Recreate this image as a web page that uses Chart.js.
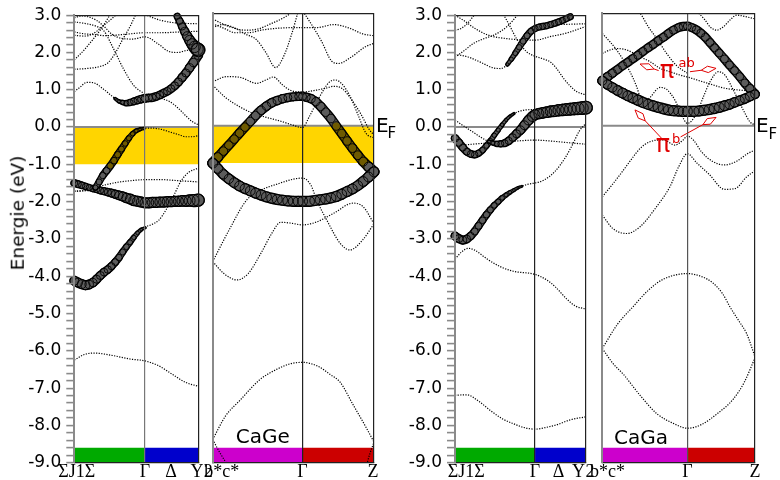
<!DOCTYPE html>
<html>
<head>
<meta charset="utf-8">
<title>CaGe / CaGa band structures</title>
<script src="https://cdn.jsdelivr.net/npm/chart.js@4.4.1/dist/chart.umd.min.js"></script>
<style>
  html, body { margin: 0; padding: 0; background: #fff; }
  #stage { position: relative; width: 780px; height: 480px; overflow: hidden; }
  #stage canvas { position: absolute; left: 0; top: 0; }
  .txt { position: absolute; white-space: nowrap; line-height: 1; font-family: "DejaVu Sans", sans-serif; color: #000; }
  .red { color: #e00000; }
</style>
</head>
<body>
<div id="stage">
  <canvas id="cageLeft" width="780" height="480"></canvas>
  <canvas id="cageRight" width="780" height="480"></canvas>
  <canvas id="cagaLeft" width="780" height="480"></canvas>
  <canvas id="cagaRight" width="780" height="480"></canvas>

  <div class="txt" style="left:18px;top:213px;font-size:18.5px;transform:translate(-50%,-50%) rotate(-90deg);">Energie (eV)</div>

  <div class="txt" style="left:376px;top:115px;font-size:20px;">E</div>
  <div class="txt" style="left:387.5px;top:125.6px;font-size:15px;">F</div>
  <div class="txt" style="left:756px;top:115.4px;font-size:20px;">E</div>
  <div class="txt" style="left:768.5px;top:127.3px;font-size:15px;">F</div>

  <div class="txt" style="left:235.7px;top:426.1px;font-size:20px;">CaGe</div>
  <div class="txt" style="left:614px;top:427.1px;font-size:20px;">CaGa</div>

  <div class="txt red" style="left:659.7px;top:58px;font-size:24px;">π</div>
  <div class="txt red" style="left:678.5px;top:56.3px;font-size:13px;">ab</div>
  <div class="txt red" style="left:655.7px;top:132.4px;font-size:24px;">π</div>
  <div class="txt red" style="left:672px;top:131.7px;font-size:13px;">b</div>
</div>

<script>
// ---------------------------------------------------------------------------
// Energy window shared by all four panels (eV, relative to E_F)
const E_MIN = -9;
const E_MAX = 3;
const BAR_TOP = -8.6;          // top of the coloured k-path strips
const FAT_RADIUS_PX = 10;      // circle radius for a fat-band weight of 1

// ---------------------------------------------------------------------------
// CaGe, first k-path (path coordinate 0..1)
const cageLeftLabels = ['ΣJ1Σ', 'Γ', 'Δ', 'Y'];
const cageLeftLabelK = [0.02, 0.57, 0.78, 0.99];
const cageLeftStrips = [[0, 0.57], [0.57, 1]];

const cageLeftBands = [
  [[0,-6.25],[0.08,-6.1],[0.16,-6.06],[0.3,-6.12],[0.45,-6.22],[0.57,-6.27],[0.68,-6.4],[0.8,-6.65],[0.9,-6.85],[1,-6.95]],
  [[0,-4.12],[0.1,-4.24],[0.2,-4.02],[0.3,-3.73],[0.4,-3.3],[0.5,-2.88],[0.57,-2.68],[0.62,-2.62],[0.68,-2.5],[0.74,-2.22],[0.8,-1.85],[0.86,-1.45],[0.92,-1.22],[1,-1.1]],
  [[0,-1.5],[0.15,-1.65],[0.3,-1.77],[0.42,-1.9],[0.51,-1.99],[0.57,-2.03],[0.69,-2.01],[0.84,-1.99],[1,-1.96]],
  [[0,-1.72],[0.08,-1.71],[0.15,-1.67],[0.2,-1.47],[0.26,-1.17],[0.32,-0.9],[0.38,-0.59],[0.44,-0.3],[0.5,-0.1],[0.57,-0.03],[0.63,-0.03],[0.7,-0.06],[0.77,-0.13],[0.84,-0.2],[0.9,-0.26],[0.95,-0.26],[1,-0.23]],
  [[0,-1.72],[0.08,-1.7],[0.153,-1.64],[0.25,-1.55],[0.35,-1.48],[0.45,-1.44],[0.57,-1.41],[0.7,-1.41],[0.85,-1.44],[1,-1.47]],
  [[0,0.95],[0.05,1.08],[0.1,1.2],[0.153,1.19],[0.234,1.02],[0.3,0.84],[0.368,0.684],[0.422,0.64],[0.476,0.684],[0.53,0.746],[0.57,0.773],[0.637,0.79],[0.69,0.86],[0.744,0.95],[0.798,1.08],[0.852,1.26],[0.906,1.48],[0.96,1.73],[1,1.93]],
  [[0,2.82],[0.1,2.77],[0.18,2.7],[0.234,2.6],[0.315,2.11],[0.395,1.57],[0.476,1.13],[0.53,0.97],[0.57,0.9],[0.64,0.82],[0.7,0.77],[0.77,0.68],[0.84,0.5],[0.9,0.3],[0.95,0.15],[1,0.06]],
  [[0,1.55],[0.1,1.57],[0.2,1.62],[0.27,1.72],[0.33,1.98],[0.39,2.35],[0.45,2.7],[0.5,3.05]],
  [[0,1.8],[0.08,2.07],[0.15,2.35],[0.22,2.65],[0.29,3.02]],
  [[0,2.93],[0.06,2.98],[0.12,2.95],[0.18,2.86],[0.24,2.7],[0.3,2.5],[0.38,2.38],[0.47,2.36],[0.57,2.42],[0.68,2.22],[0.76,2.03],[0.83,2.0],[0.9,2.05],[1,2.1]],
  [[0,2.55],[0.08,2.5],[0.16,2.48],[0.25,2.45],[0.35,2.47],[0.45,2.5],[0.57,2.53],[0.7,2.53],[0.85,2.55],[1,2.57]],
  [[0,2.46],[0.08,2.44],[0.15,2.5],[0.22,2.68],[0.3,2.9],[0.35,3.05]],
  [[0.55,3.05],[0.62,2.95],[0.7,2.86],[0.8,2.8],[0.9,2.78],[1,2.77]],
  [[0.8,3.15],[0.83,2.97],[0.87,2.7],[0.91,2.44],[0.95,2.23],[1,2.07]]
];

// fat bands: [k, E, weight]
const cageLeftFat = [
  [[0,-4.12,0.45],[0.03,-4.17,0.45],[0.06,-4.21,0.45],[0.09,-4.24,0.45],[0.12,-4.22,0.43],[0.15,-4.17,0.42],[0.18,-4.08,0.4],[0.21,-3.98,0.4],[0.24,-3.89,0.38],[0.27,-3.82,0.37],[0.3,-3.73,0.35],[0.33,-3.62,0.34],[0.36,-3.5,0.32],[0.39,-3.35,0.3],[0.42,-3.21,0.28],[0.45,-3.09,0.25],[0.48,-2.96,0.22],[0.51,-2.84,0.18],[0.54,-2.75,0.14],[0.57,-2.7,0.1]],
  [[0,-1.5,0.35],[0.03,-1.53,0.33],[0.06,-1.56,0.32],[0.09,-1.59,0.3],[0.12,-1.62,0.3],[0.15,-1.65,0.3],[0.18,-1.67,0.32],[0.21,-1.7,0.33],[0.24,-1.72,0.35],[0.27,-1.745,0.36],[0.3,-1.77,0.38],[0.33,-1.8,0.4],[0.36,-1.83,0.42],[0.39,-1.86,0.44],[0.42,-1.9,0.46],[0.45,-1.93,0.48],[0.48,-1.97,0.5],[0.51,-1.99,0.5],[0.54,-2.01,0.5],[0.57,-2.03,0.5],[0.6,-2.03,0.5],[0.63,-2.02,0.5],[0.66,-2.02,0.5],[0.69,-2.01,0.5],[0.72,-2.01,0.5],[0.75,-2.0,0.5],[0.78,-2.0,0.5],[0.81,-1.99,0.5],[0.84,-1.99,0.5],[0.87,-1.98,0.52],[0.9,-1.98,0.53],[0.93,-1.97,0.55],[0.96,-1.97,0.58],[1,-1.96,0.62]],
  [[0.17,-1.62,0.25],[0.2,-1.47,0.3],[0.23,-1.3,0.32],[0.26,-1.17,0.33],[0.29,-1.04,0.33],[0.32,-0.9,0.33],[0.35,-0.74,0.32],[0.38,-0.59,0.3],[0.41,-0.44,0.28],[0.44,-0.3,0.25],[0.47,-0.18,0.22],[0.5,-0.1,0.18],[0.53,-0.06,0.14],[0.56,-0.04,0.1]],
  [[0.33,0.76,0.12],[0.36,0.69,0.15],[0.39,0.66,0.2],[0.42,0.64,0.25],[0.45,0.66,0.3],[0.48,0.69,0.33],[0.51,0.72,0.35],[0.54,0.75,0.37],[0.57,0.77,0.38],[0.6,0.78,0.38],[0.63,0.79,0.38],[0.66,0.82,0.38],[0.69,0.86,0.38],[0.72,0.91,0.38],[0.75,0.96,0.38],[0.78,1.03,0.38],[0.81,1.11,0.38],[0.84,1.21,0.39],[0.87,1.33,0.4],[0.9,1.45,0.4],[0.93,1.59,0.41],[0.96,1.73,0.42],[1,1.93,0.44]],
  [[0.83,2.97,0.3],[0.85,2.84,0.33],[0.87,2.7,0.36],[0.89,2.57,0.4],[0.91,2.44,0.44],[0.93,2.33,0.48],[0.95,2.23,0.52],[0.97,2.15,0.57],[0.99,2.09,0.62],[1,2.07,0.68]]
];

// ---------------------------------------------------------------------------
// CaGe, second k-path
const cageRightLabels = ['2', 'b*c*', 'Γ', 'Z'];
const cageRightLabelK = [-0.027, 0.056, 0.557, 0.994];
const cageRightStrips = [[0, 0.557], [0.557, 1]];

const cageRightBands = [
  [[0,-8.38],[0.08,-7.75],[0.17,-7.33],[0.29,-6.79],[0.4,-6.5],[0.48,-6.36],[0.557,-6.32],[0.65,-6.42],[0.73,-6.65],[0.79,-6.85],[0.87,-7.45],[0.95,-8.05],[1,-8.45]],
  [[0,-8.38],[0.04,-8.7],[0.09,-9.05]],
  [[0.955,-9.05],[0.975,-8.75],[1,-8.45]],
  [[0,-3.63],[0.07,-3.95],[0.15,-4.12],[0.22,-3.95],[0.3,-3.4],[0.37,-2.85],[0.42,-2.58],[0.48,-2.6],[0.557,-2.65],[0.645,-2.57],[0.75,-2.34],[0.87,-2.07],[0.934,-2.17],[1,-2.62]],
  [[0,-3.63],[0.1,-2.8],[0.21,-1.99],[0.3,-1.72],[0.4,-1.56],[0.5,-1.43],[0.557,-1.4],[0.61,-1.6],[0.645,-1.99],[0.707,-2.52],[0.79,-3.14],[0.85,-3.32],[0.93,-3.05],[1,-2.62]],
  [[0,1.08],[0.08,0.75],[0.169,0.5],[0.25,0.33],[0.334,0.22],[0.42,0.12],[0.479,0.04],[0.557,-0.05],[0.6,0.25],[0.66,0.75],[0.72,1.15],[0.76,1.22],[0.8,1.12],[0.85,0.8],[0.9,0.3],[0.95,-0.2],[1,-0.33]],
  [[0,1.17],[0.087,1.31],[0.169,1.29],[0.273,1.13],[0.33,1.22],[0.376,1.3],[0.43,1.1],[0.479,0.95],[0.557,0.9],[0.645,0.95],[0.7,1.0],[0.75,1.05],[0.8,1.0],[0.86,0.7],[0.92,0.3],[0.97,-0.1],[1,-0.25]],
  [[0,2.85],[0.06,2.72],[0.12,2.62],[0.2,2.55],[0.28,2.58],[0.36,2.72],[0.44,2.88],[0.5,3.05]],
  [[0,2.62],[0.06,2.7],[0.13,2.62],[0.2,2.45],[0.27,2.3],[0.33,1.95],[0.39,1.55],[0.44,1.85],[0.49,2.45],[0.53,3.05]],
  [[0,2.72],[0.07,2.6],[0.14,2.48],[0.22,2.48],[0.3,2.55],[0.4,2.6],[0.557,2.62],[0.65,2.62],[0.75,2.7],[0.85,2.6],[0.93,2.45],[1,2.4]],
  [[0.56,3.05],[0.613,2.7],[0.675,2.25],[0.738,1.72],[0.78,1.66],[0.862,1.84],[0.944,2.1],[1,2.2]]
];

const cageRightFat = [
  [[0,-1.0,0.5],[0.033,-0.84,0.45],[0.066,-0.68,0.43],[0.1,-0.52,0.43],[0.133,-0.36,0.43],[0.166,-0.2,0.43],[0.2,-0.04,0.43],[0.233,0.11,0.43],[0.266,0.27,0.43],[0.3,0.41,0.43],[0.333,0.52,0.42],[0.366,0.61,0.42],[0.4,0.67,0.41],[0.433,0.72,0.41],[0.466,0.75,0.4],[0.5,0.77,0.4],[0.533,0.78,0.4],[0.557,0.78,0.4],[0.58,0.76,0.4],[0.61,0.72,0.41],[0.64,0.64,0.42],[0.67,0.51,0.43],[0.7,0.36,0.43],[0.733,0.19,0.43],[0.766,-0.01,0.43],[0.8,-0.21,0.43],[0.833,-0.41,0.43],[0.866,-0.6,0.44],[0.9,-0.79,0.44],[0.933,-0.96,0.45],[0.966,-1.1,0.47],[1,-1.23,0.5]],
  [[0,-1.0,0.5],[0.033,-1.15,0.46],[0.066,-1.3,0.46],[0.1,-1.42,0.47],[0.133,-1.52,0.47],[0.166,-1.61,0.48],[0.2,-1.68,0.48],[0.233,-1.74,0.49],[0.266,-1.8,0.49],[0.3,-1.85,0.5],[0.333,-1.9,0.5],[0.366,-1.94,0.5],[0.4,-1.97,0.5],[0.433,-1.99,0.5],[0.466,-2.01,0.5],[0.5,-2.02,0.5],[0.53,-2.02,0.5],[0.557,-2.02,0.5],[0.6,-2.02,0.5],[0.633,-2.0,0.5],[0.666,-1.98,0.5],[0.7,-1.96,0.5],[0.733,-1.93,0.5],[0.766,-1.89,0.5],[0.8,-1.83,0.49],[0.833,-1.76,0.49],[0.866,-1.69,0.48],[0.9,-1.6,0.48],[0.933,-1.49,0.48],[0.966,-1.37,0.49],[1,-1.23,0.5]]
];

// ---------------------------------------------------------------------------
// CaGa, first k-path
const cagaLeftLabels = ['ΣJ1Σ', 'Γ', 'Δ', 'Y'];
const cagaLeftLabelK = [0.085, 0.611, 0.79, 0.943];
const cagaLeftStrips = [[0, 0.611], [0.611, 1]];

const cagaLeftBands = [
  [[0,-7.19],[0.09,-7.18],[0.18,-7.35],[0.27,-7.6],[0.36,-7.82],[0.45,-7.96],[0.53,-8.06],[0.611,-8.1],[0.7,-8.05],[0.78,-7.98],[0.88,-7.85],[1,-7.77]],
  [[0,-3.54],[0.05,-3.35],[0.1,-3.25],[0.15,-3.3],[0.25,-3.55],[0.35,-3.75],[0.45,-3.87],[0.611,-3.95],[0.7,-4.1],[0.77,-4.3],[0.85,-4.6],[0.92,-4.8],[1,-4.88]],
  [[0,-2.92],[0.05,-3.02],[0.1,-2.98],[0.15,-2.8],[0.2,-2.55],[0.25,-2.3],[0.3,-2.1],[0.36,-1.9],[0.42,-1.75],[0.5,-1.6],[0.56,-1.53],[0.611,-1.5],[0.68,-1.42],[0.76,-1.2],[0.84,-0.83],[0.9,-0.45],[0.95,-0.1],[1,0.1]],
  [[0,0.19],[0.07,0.02],[0.14,-0.14],[0.2,-0.28],[0.26,-0.39],[0.32,-0.45],[0.38,-0.43],[0.44,-0.28],[0.5,-0.08],[0.55,0.13],[0.611,0.33],[0.7,0.4],[0.8,0.45],[0.9,0.49],[1,0.52]],
  [[0,-0.3],[0.06,-0.55],[0.12,-0.72],[0.15,-0.74],[0.2,-0.65],[0.27,-0.37],[0.33,-0.08],[0.39,0.19],[0.45,0.36],[0.52,0.45],[0.611,0.47],[0.7,0.48],[0.8,0.5],[0.9,0.52],[1,0.54]],
  [[0,-0.5],[0.1,-0.47],[0.2,-0.44],[0.3,-0.43],[0.45,-0.38],[0.611,-0.35],[0.75,-0.38],[0.9,-0.43],[1,-0.46]],
  [[0,1.95],[0.1,1.88],[0.2,1.73],[0.3,1.58],[0.35,1.57],[0.4,1.68],[0.45,1.92],[0.5,2.2],[0.55,2.45],[0.611,2.64],[0.68,2.71],[0.75,2.77],[0.82,2.86],[0.88,2.97],[0.92,3.05]],
  [[0.37,3.02],[0.42,2.7],[0.47,2.37],[0.547,2.02],[0.611,1.9],[0.68,1.82],[0.73,1.74],[0.78,1.55],[0.83,1.3],[0.88,1.1],[0.93,0.95],[1,0.86]],
  [[0,2.6],[0.05,2.65],[0.1,2.8],[0.15,3.02]],
  [[0,3.0],[0.07,2.85],[0.15,2.65],[0.25,2.47],[0.4,2.37],[0.611,2.33],[0.72,2.42],[0.85,2.52],[1,2.7]],
  [[0,1.87],[0.07,2.05],[0.14,2.24],[0.22,2.37],[0.292,2.46],[0.35,2.57],[0.395,2.69],[0.44,2.85],[0.48,3.02]],
  [[0.611,2.72],[0.7,2.73],[0.8,2.75],[0.9,2.76],[1,2.77]]
];

const cagaLeftFat = [
  [[0,-2.92,0.4],[0.03,-2.99,0.4],[0.06,-3.03,0.4],[0.09,-3.0,0.38],[0.12,-2.92,0.36],[0.15,-2.8,0.35],[0.18,-2.65,0.34],[0.21,-2.5,0.33],[0.24,-2.35,0.32],[0.27,-2.22,0.3],[0.3,-2.1,0.28],[0.33,-2.0,0.26],[0.36,-1.9,0.23],[0.39,-1.82,0.2],[0.42,-1.75,0.17],[0.45,-1.69,0.14],[0.48,-1.63,0.11],[0.51,-1.59,0.08]],
  [[0,-0.3,0.38],[0.03,-0.42,0.36],[0.06,-0.55,0.35],[0.09,-0.66,0.34],[0.12,-0.72,0.33],[0.15,-0.74,0.32],[0.18,-0.7,0.3],[0.21,-0.62,0.28],[0.24,-0.5,0.26],[0.27,-0.37,0.24],[0.3,-0.22,0.22],[0.33,-0.08,0.2],[0.36,0.06,0.18],[0.39,0.19,0.15],[0.42,0.29,0.12],[0.45,0.36,0.1]],
  [[0.26,-0.39,0.15],[0.29,-0.43,0.2],[0.32,-0.45,0.25],[0.35,-0.45,0.3],[0.38,-0.43,0.33],[0.41,-0.37,0.36],[0.44,-0.28,0.38],[0.47,-0.18,0.4],[0.5,-0.08,0.42],[0.53,0.05,0.44],[0.56,0.18,0.46],[0.59,0.28,0.48],[0.611,0.33,0.5],[0.64,0.36,0.5],[0.67,0.38,0.51],[0.7,0.4,0.52],[0.73,0.42,0.53],[0.76,0.43,0.54],[0.79,0.45,0.55],[0.82,0.46,0.56],[0.85,0.47,0.57],[0.88,0.48,0.58],[0.91,0.49,0.59],[0.94,0.5,0.6],[0.97,0.51,0.62],[1,0.52,0.65]],
  [[0.4,1.68,0.15],[0.43,1.82,0.2],[0.46,1.98,0.24],[0.49,2.14,0.27],[0.52,2.3,0.29],[0.55,2.45,0.3],[0.58,2.57,0.3],[0.611,2.64,0.3],[0.64,2.68,0.3],[0.67,2.7,0.3],[0.7,2.72,0.3],[0.73,2.75,0.3],[0.76,2.78,0.3],[0.79,2.82,0.3],[0.82,2.86,0.3],[0.85,2.91,0.3],[0.88,2.96,0.3]]
];

// ---------------------------------------------------------------------------
// CaGa, second k-path
const cagaRightLabels = ['2', 'b*c*', 'Γ', 'Z'];
const cagaRightLabelK = [-0.08, 0.034, 0.557, 1];
const cagaRightStrips = [[0, 0.557], [0.557, 1]];

const cagaRightBands = [
  [[0,-5.95],[0.07,-6.35],[0.14,-6.65],[0.247,-7.2],[0.36,-7.7],[0.465,-7.95],[0.557,-8.08],[0.65,-7.98],[0.75,-7.7],[0.858,-7.3],[0.93,-6.85],[1,-6.2]],
  [[0,-5.95],[0.1,-5.3],[0.2,-4.84],[0.3,-4.4],[0.4,-4.1],[0.557,-3.95],[0.65,-4.03],[0.727,-4.21],[0.79,-4.5],[0.836,-4.84],[0.9,-5.25],[0.945,-5.55],[1,-6.17]],
  [[0,-2.39],[0.07,-2.75],[0.16,-2.88],[0.247,-2.7],[0.356,-2.16],[0.443,-1.63],[0.5,-1.1],[0.557,-0.75],[0.62,-1.0],[0.7,-1.3],[0.8,-1.7],[0.87,-1.68],[0.945,-1.37],[1,-1.2]],
  [[0,-1.9],[0.072,-1.54],[0.138,-1.19],[0.203,-0.83],[0.247,-0.61],[0.312,-0.43],[0.4,-0.38],[0.476,-0.52],[0.53,-0.38],[0.557,-0.28],[0.6,-0.4],[0.65,-0.7],[0.72,-0.95],[0.8,-1.05],[0.88,-0.95],[0.95,-0.75],[1,-0.65]],
  [[0,2.46],[0.05,2.24],[0.094,2.02],[0.138,1.75],[0.181,1.44],[0.225,1.04],[0.247,0.77],[0.269,0.6],[0.312,0.75],[0.378,1.02],[0.421,0.97],[0.476,0.68],[0.52,0.28],[0.557,0.06],[0.618,0.33],[0.662,0.77],[0.705,1.17],[0.76,1.44],[0.803,1.35],[0.858,0.95],[0.923,0.42],[0.967,0.1],[1,0.02]],
  [[0,1.93],[0.05,2.02],[0.094,2.06],[0.16,2.02],[0.247,1.84],[0.312,1.71],[0.378,1.53],[0.443,1.44],[0.509,1.35],[0.557,1.3],[0.62,1.22],[0.7,1.12],[0.8,1.0],[0.9,0.95],[1,0.92]],
  [[0.22,3.05],[0.247,3.0],[0.301,2.64],[0.356,2.33],[0.421,1.93],[0.487,1.6],[0.557,1.4]],
  [[0.62,3.05],[0.673,2.82],[0.705,2.64],[0.749,2.55],[0.793,2.64],[0.836,2.82],[0.88,2.95],[0.95,2.9],[1,2.85]]
];

const cagaRightFat = [
  [[0,1.2,0.45],[0.033,1.3,0.42],[0.066,1.4,0.4],[0.1,1.5,0.4],[0.133,1.6,0.4],[0.166,1.69,0.4],[0.2,1.79,0.4],[0.233,1.88,0.4],[0.266,1.98,0.4],[0.3,2.08,0.4],[0.333,2.17,0.4],[0.366,2.27,0.4],[0.4,2.36,0.4],[0.433,2.46,0.4],[0.466,2.55,0.4],[0.5,2.62,0.4],[0.53,2.65,0.4],[0.557,2.66,0.4],[0.585,2.62,0.4],[0.615,2.56,0.4],[0.645,2.47,0.4],[0.675,2.36,0.4],[0.705,2.22,0.4],[0.735,2.08,0.4],[0.765,1.94,0.4],[0.8,1.78,0.4],[0.833,1.62,0.4],[0.866,1.47,0.4],[0.9,1.31,0.4],[0.933,1.14,0.4],[0.966,0.99,0.41],[1,0.84,0.43]],
  [[0,1.2,0.45],[0.033,1.1,0.45],[0.066,1.02,0.46],[0.1,0.94,0.47],[0.133,0.87,0.48],[0.166,0.8,0.48],[0.2,0.74,0.49],[0.233,0.68,0.5],[0.266,0.62,0.5],[0.3,0.57,0.5],[0.333,0.53,0.5],[0.366,0.49,0.5],[0.4,0.45,0.5],[0.433,0.42,0.5],[0.466,0.4,0.5],[0.5,0.39,0.5],[0.53,0.38,0.5],[0.557,0.38,0.5],[0.6,0.38,0.5],[0.633,0.39,0.5],[0.666,0.41,0.5],[0.7,0.43,0.5],[0.733,0.46,0.5],[0.766,0.49,0.49],[0.8,0.53,0.48],[0.833,0.57,0.47],[0.866,0.62,0.46],[0.9,0.67,0.45],[0.933,0.72,0.45],[0.966,0.78,0.44],[1,0.84,0.43]]
];

// ---------------------------------------------------------------------------
// drawing
Chart.defaults.font.family = '"DejaVu Sans", sans-serif';
Chart.defaults.color = '#000';

const PLOT_TOP = 13.3;
const PLOT_BOTTOM = 462.7;
const near = (a, b) => Math.abs(a - b) < 1e-6;

// red π annotations, arrow from label side to the band it points at
const piArrowPlugin = {
  id: 'piArrows',
  afterDatasetsDraw(chart, args, opts) {
    if (!opts.arrows) return;
    const { ctx, scales: { x, y } } = chart;
    ctx.save();
    ctx.strokeStyle = '#e00000';
    ctx.lineWidth = 1;
    for (const [k0, e0, k1, e1] of opts.arrows) {
      const x0 = x.getPixelForValue(k0), y0 = y.getPixelForValue(e0);
      const x1 = x.getPixelForValue(k1), y1 = y.getPixelForValue(e1);
      const L = Math.hypot(x1 - x0, y1 - y0);
      const ux = (x1 - x0) / L, uy = (y1 - y0) / L;
      const len = 15, half = 3.2;
      const bx = x1 - ux * len, by = y1 - uy * len;
      const mx = x1 - ux * len * 0.55, my = y1 - uy * len * 0.55;
      ctx.beginPath();
      ctx.moveTo(x0, y0); ctx.lineTo(bx, by);
      ctx.stroke();
      ctx.beginPath();
      ctx.moveTo(bx, by);
      ctx.lineTo(mx - uy * half, my + ux * half);
      ctx.lineTo(x1, y1);
      ctx.lineTo(mx + uy * half, my - ux * half);
      ctx.closePath();
      ctx.stroke();
    }
    ctx.restore();
  }
};

function makePanel(id, p) {
  const datasets = [];
  if (p.fermiBand) {
    datasets.push({
      data: [{ x: 0, y: 0 }, { x: 1, y: 0 }],
      fill: { value: -1 }, backgroundColor: '#ffd500',
      borderWidth: 0, pointRadius: 0, order: 10
    });
  }
  p.strips.forEach(([k0, k1], i) => datasets.push({
    data: [{ x: k0, y: BAR_TOP }, { x: k1, y: BAR_TOP }],
    fill: { value: E_MIN }, backgroundColor: p.stripColors[i],
    borderWidth: 0, pointRadius: 0, order: 9
  }));
  // Fermi level
  datasets.push({
    data: [{ x: 0, y: 0 }, { x: 1, y: 0 }],
    borderColor: '#8a8a8a', borderWidth: 2, pointRadius: 0, fill: false, order: 8
  });
  p.bands.forEach(b => datasets.push({
    data: b.map(([x, y]) => ({ x, y })),
    borderColor: '#000', borderWidth: 1.2, borderDash: [1.2, 1.4],
    pointRadius: 0, fill: false, cubicInterpolationMode: 'monotone', order: 3
  }));
  // fat bands: a tube of overlapping open circles, radius = orbital weight
  p.fat.forEach((f, j) => {
    const r = f.map(v => v[2] * FAT_RADIUS_PX);
    const segWidth = extra => c => Math.max(0.6, r[c.p0DataIndex] + r[c.p1DataIndex] + extra);
    const inYellow = c => {
      const e = (c.p0.parsed.y + c.p1.parsed.y) / 2;
      return p.fermiBand && e <= 0.05 && e >= -1.05;
    };
    const common = {
      data: f.map(([x, y]) => ({ x, y })),
      fill: false, cubicInterpolationMode: 'monotone',
      borderCapStyle: 'round', borderJoinStyle: 'round', clip: false
    };
    const base = 2.9 - j * 0.03;
    // envelope
    datasets.push(Object.assign({}, common, {
      pointRadius: 0,
      borderColor: '#000', borderWidth: 2 * r[0] + 1.2,
      segment: { borderWidth: segWidth(1.2) },
      order: base
    }));
    // interior seen through the rings
    datasets.push(Object.assign({}, common, {
      pointRadius: 0,
      borderColor: '#5c5c5c', borderWidth: Math.max(0.6, 2 * r[0] - 1.4),
      segment: { borderWidth: segWidth(-1.4), borderColor: c => inYellow(c) ? '#6e5a00' : '#5c5c5c' },
      order: base - 0.01
    }));
    // the rings themselves
    datasets.push(Object.assign({}, common, {
      showLine: false,
      pointRadius: r, pointHitRadius: 0,
      pointBorderColor: '#000', pointBackgroundColor: 'rgba(0,0,0,0)', pointBorderWidth: 0.9,
      order: base - 0.02
    }));
  });

  const gammaK = p.labelK[p.gammaIndex];
  return new Chart(document.getElementById(id), {
    type: 'line',
    data: { datasets },
    plugins: [piArrowPlugin],
    options: {
      responsive: false, animation: false, events: [],
      layout: { padding: { left: 0, top: PLOT_TOP, right: 780 - p.right, bottom: 0 } },
      plugins: { legend: { display: false }, tooltip: { enabled: false }, piArrows: { arrows: p.arrows } },
      scales: {
        x: {
          type: 'linear', min: 0, max: 1,
          afterFit: s => { s.height = 480 - PLOT_BOTTOM; },
          afterBuildTicks: s => { s.ticks = p.labelK.map(v => ({ value: v })); },
          ticks: {
            autoSkip: false, maxRotation: 0, minRotation: 0, padding: -1,
            color: '#000', font: { family: '"Liberation Serif", serif', size: 18 },
            callback: (v, i) => p.labels[i]
          },
          grid: {
            drawTicks: false, z: 1,
            color: c => near(c.tick.value, 0) ? '#8a8a8a' : near(c.tick.value, gammaK) ? p.gammaColor : 'rgba(0,0,0,0)',
            lineWidth: c => near(c.tick.value, 0) ? 2 : 1.2
          },
          border: { display: true, color: '#222', width: 1.2, z: 1 }
        },
        y: {
          type: 'linear', min: E_MIN, max: E_MAX,
          afterFit: s => { s.width = p.left; },
          ticks: {
            display: p.tickLabels, stepSize: 0.2, autoSkip: false, padding: 5,
            color: '#000', font: { size: 17 },
            callback: v => near(v, Math.round(v)) ? v.toFixed(1) : ''
          },
          grid: {
            drawTicks: p.tickMarks, tickLength: 8, tickColor: '#8a8a8a', tickWidth: 1.6, z: 1,
            color: c => near(c.tick.value, E_MAX) ? '#222' : 'rgba(0,0,0,0)',
            lineWidth: 1.2
          },
          border: { display: true, color: '#8a8a8a', width: 2, z: 1 }
        },
        // right-hand frame of the panel
        yr: {
          type: 'linear', position: 'right', min: E_MIN, max: E_MAX,
          afterFit: s => { s.width = 0; },
          ticks: { display: false }, grid: { display: false },
          border: { display: true, color: '#222', width: 1.2, z: 1 }
        }
      }
    }
  });
}

makePanel('cageLeft', {
  left: 74.3, right: 198.3, tickLabels: true, tickMarks: true, fermiBand: true,
  labels: cageLeftLabels, labelK: cageLeftLabelK, gammaIndex: 1, gammaColor: '#777',
  strips: cageLeftStrips, stripColors: ['#00aa00', '#0000cc'],
  bands: cageLeftBands, fat: cageLeftFat
});
makePanel('cageRight', {
  left: 212.7, right: 374, tickLabels: false, tickMarks: false, fermiBand: true,
  labels: cageRightLabels, labelK: cageRightLabelK, gammaIndex: 2, gammaColor: '#222',
  strips: cageRightStrips, stripColors: ['#cc00cc', '#cc0000'],
  bands: cageRightBands, fat: cageRightFat
});
makePanel('cagaLeft', {
  left: 455, right: 586, tickLabels: true, tickMarks: true, fermiBand: false,
  labels: cagaLeftLabels, labelK: cagaLeftLabelK, gammaIndex: 1, gammaColor: '#222',
  strips: cagaLeftStrips, stripColors: ['#00aa00', '#0000cc'],
  bands: cagaLeftBands, fat: cagaLeftFat
});
makePanel('cagaRight', {
  left: 602.3, right: 755, tickLabels: false, tickMarks: false, fermiBand: false,
  labels: cagaRightLabels, labelK: cagaRightLabelK, gammaIndex: 2, gammaColor: '#555',
  strips: cagaRightStrips, stripColors: ['#cc00cc', '#cc0000'],
  bands: cagaRightBands, fat: cagaRightFat,
  arrows: [[0.369, 1.47, 0.247, 1.645], [0.574, 1.44, 0.745, 1.53], [0.389, -0.34, 0.214, 0.42], [0.513, -0.30, 0.745, 0.22]]
});
</script>
</body>
</html>
